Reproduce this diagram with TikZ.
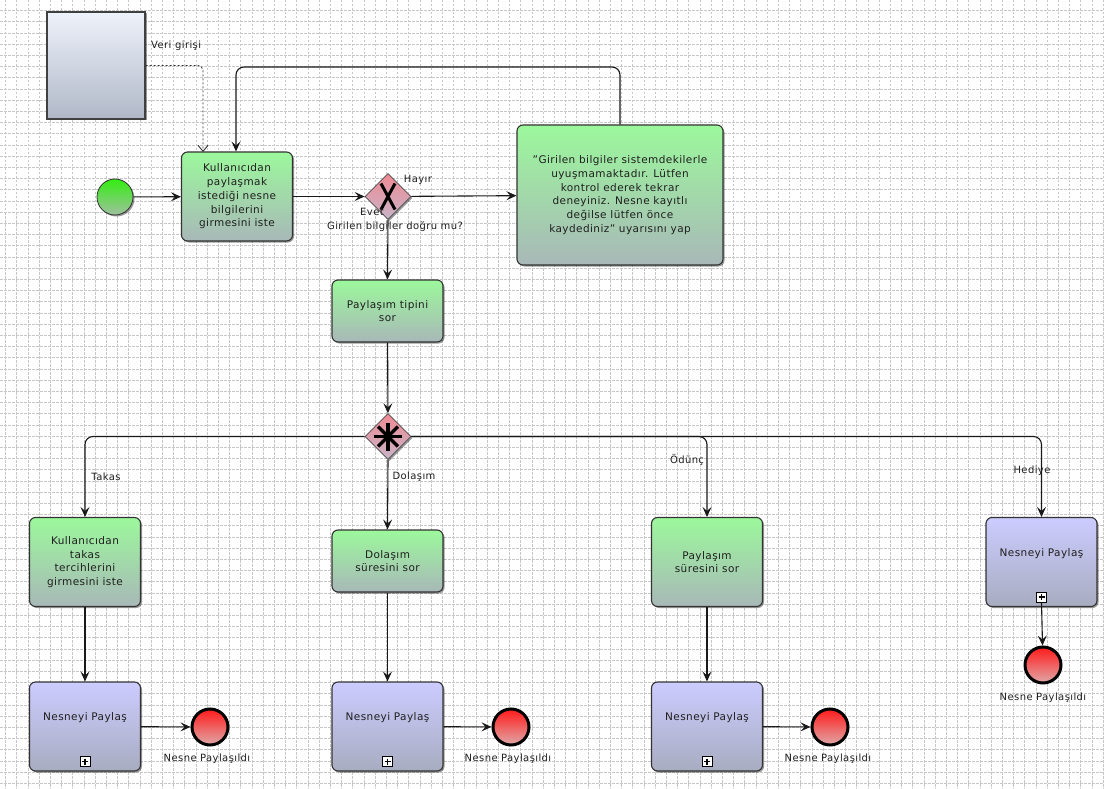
\documentclass[tikz,border=0pt]{standalone}
\usepackage{fontspec}
\setmainfont[LetterSpace=4]{DejaVu Sans}
\usetikzlibrary{shapes.geometric,arrows.meta,shadows,calc}
\definecolor{tgtop}{HTML}{9CF89C}
\definecolor{tgbot}{HTML}{A8B8B8}
\definecolor{tptop}{HTML}{CCCCFF}
\definecolor{tpbot}{HTML}{A8ACC0}
\definecolor{gwtop}{HTML}{F08A94}
\definecolor{gwbot}{HTML}{C8B4C8}
\definecolor{sttop}{HTML}{33EE11}
\definecolor{stbot}{HTML}{A0C0A0}
\definecolor{entop}{HTML}{FF1A1A}
\definecolor{enbot}{HTML}{E0A8A8}
\definecolor{dtop}{HTML}{EEF2FA}
\definecolor{dbot}{HTML}{B0B8C8}
\tikzset{
  shd/.style={drop shadow={shadow xshift=1.5pt,shadow yshift=-1.5pt,opacity=0.4,fill=black}},
  taskbox/.style={draw=black!80, line width=1.1pt, rounded corners=6pt, top color=tgtop, bottom color=tgbot,
    minimum width=111pt, minimum height=89pt, align=center, font=\fontsize{10.5}{13.7}\selectfont,
    text=black!88, inner sep=2pt, shd},
  subbox/.style={taskbox, top color=tptop, bottom color=tpbot},
  gateway/.style={diamond, aspect=1, draw=black!70, line width=0.8pt, top color=gwtop, bottom color=gwbot,
    minimum width=46pt, minimum height=46pt, inner sep=0pt, shd},
  startev/.style={circle, draw=black!80, line width=0.8pt, top color=sttop, bottom color=stbot,
    minimum size=36pt, inner sep=0pt, shd},
  endev/.style={circle, draw=black, line width=3pt, top color=entop, bottom color=enbot,
    minimum size=36pt, inner sep=0pt},
  databox/.style={draw=black!75, line width=1.1pt, top color=dtop, bottom color=dbot,
    minimum width=98pt, minimum height=107pt, inner sep=0pt, shd},
  lbl/.style={font=\fontsize{10}{12}\selectfont, text=black!88, inner sep=1pt},
  flow/.style={draw=black!90, line width=1.1pt, -{Stealth[length=10pt,width=9pt,inset=4pt]}},
  assoc/.style={draw=black!80, line width=0.9pt, dash pattern=on 2pt off 2pt, -{Straight Barb[length=6pt,width=10pt]}},
  gridline/.style={draw=black!22, line width=0.5pt, dash pattern=on 2.5pt off 1.5pt},
  gwmark/.style={line width=3.2pt, black},
}
\newcommand\submarker[1]{%
  \node[draw=black, line width=1pt, fill=white, minimum size=10pt, inner sep=0pt] (#1m) at ($(#1.south)+(0,-10)$) {};
  \draw[line width=1.4pt] ($(#1m.center)+(-3,0)$) -- ($(#1m.center)+(3,0)$);
  \draw[line width=1.4pt] ($(#1m.center)+(0,-3)$) -- ($(#1m.center)+(0,3)$);
}
\begin{document}
\begin{tikzpicture}[x=1pt,y=-1pt]
\fill[white] (0,0) rectangle (1104,789);
\useasboundingbox (0,0) rectangle (1104,789);
\foreach \i in {0,...,98} \draw[gridline] (5.5+11.2*\i,0) -- (5.5+11.2*\i,789);
\foreach \i in {0,...,71} \draw[gridline] (0,10.5+11.2*\i-11.2) -- (1104,10.5+11.2*\i-11.2);

% data object
\node[databox] (data) at (96,65.5) {};
\node[lbl, anchor=west] (ldata) at (150,46) {Veri girişi};

% start
\node[startev] (start) at (115,197) {};

% tasks row 1
\node[taskbox] (t1) at (237,196.5) {Kullanıcıdan\\paylaşmak\\istediği nesne\\bilgilerini\\girmesini iste};
\node[gateway] (gw1) at (388,196.5) {};
\draw[gwmark, line width=3pt] ($(gw1)+(-7,-13)$) -- ($(gw1)+(7,13)$);
\draw[gwmark, line width=3pt] ($(gw1)+(7,-13)$) -- ($(gw1)+(-7,13)$);
\node[taskbox, minimum width=206pt, minimum height=140pt] (tbig) at (620,195)
  {"Girilen bilgiler sistemdekilerle\\uyuşmamaktadır. Lütfen\\kontrol ederek tekrar\\deneyiniz. Nesne kayıtlı\\değilse lütfen önce\\kaydediniz" uyarısını yap};
\node[lbl] (lhayir) at (418,180) {Hayır};
\node[lbl] (levet) at (372,212) {Evet};
\node[lbl] (lgw1) at (395,227) {Girilen bilgiler doğru mu?};

\node[taskbox, minimum height=62pt] (tq) at (387.5,311) {Paylaşım tipini\\sor};
\node[gateway] (gw2) at (388,436.5) {};
\foreach \a in {0,45,...,135}
  \draw[gwmark, line width=3.5pt] ($(gw2)+(\a:14)$) -- ($(gw2)+(\a+180:14)$);

% row 2
\node[taskbox] (ta) at (85,562) {Kullanıcıdan\\takas\\tercihlerini\\girmesini iste};
\node[taskbox, minimum height=62pt] (td) at (387.5,561) {Dolaşım\\süresini sor};
\node[taskbox] (to) at (707,562) {Paylaşım\\süresini sor};
\node[subbox] (th) at (1041.5,562) {Nesneyi Paylaş\\[6pt]};
\submarker{th}

\node[lbl] (ltakas) at (106,477) {Takas};
\node[lbl] (ldol) at (414,477) {Dolaşım};
\node[lbl] (lodu) at (687,460) {Ödünç};
\node[lbl] (lhed) at (1032,471) {Hediye};

% row 3
\node[subbox] (sa) at (85,726.5) {Nesneyi Paylaş\\[6pt]};
\submarker{sa}
\node[subbox] (sd) at (387.5,726.5) {Nesneyi Paylaş\\[6pt]};
\submarker{sd}
\node[subbox] (so) at (707,726.5) {Nesneyi Paylaş\\[6pt]};
\submarker{so}

\node[endev] (ea) at (210,727) {};
\node[endev] (ed) at (511,727) {};
\node[endev] (eo) at (830,727) {};
\node[endev] (eh) at (1043,665) {};
\node[lbl] (lea) at (207,759) {Nesne Paylaşıldı};
\node[lbl] (led) at (508,759) {Nesne Paylaşıldı};
\node[lbl] (leo) at (828,759) {Nesne Paylaşıldı};
\node[lbl] (leh) at (1043,698) {Nesne Paylaşıldı};

% connectors
\coordinate (din) at (203,152);
\draw[assoc, rounded corners=5pt] (data.east) -| (din);
\coordinate (loop) at (236,67);
\draw[flow, rounded corners=8pt] (tbig.north) |- (loop) -- (loop |- t1.north);
\draw[flow] (start) -- (t1);
\draw[flow] (t1) -- (gw1);
\draw[flow] (gw1) -- (tbig);
\draw[flow] (gw1.south) -- (tq.north);
\draw[flow] (tq) -- (gw2);
\draw[flow, rounded corners=8pt] (gw2.west) -| (ta.north);
\draw[flow] (gw2.south) -- (td.north);
\draw[flow, rounded corners=8pt] (gw2.east) -| (to.north);
\draw[flow, rounded corners=8pt] (gw2.east) -| (th.north);
\draw[flow] (ta) -- (sa);
\draw[flow] (td) -- (sd);
\draw[flow] (to) -- (so);
\draw[flow] (thm.south) -- (eh);
\draw[flow] (sa) -- (ea);
\draw[flow] (sd) -- (ed);
\draw[flow] (so) -- (eo);
\end{tikzpicture}
\end{document}
